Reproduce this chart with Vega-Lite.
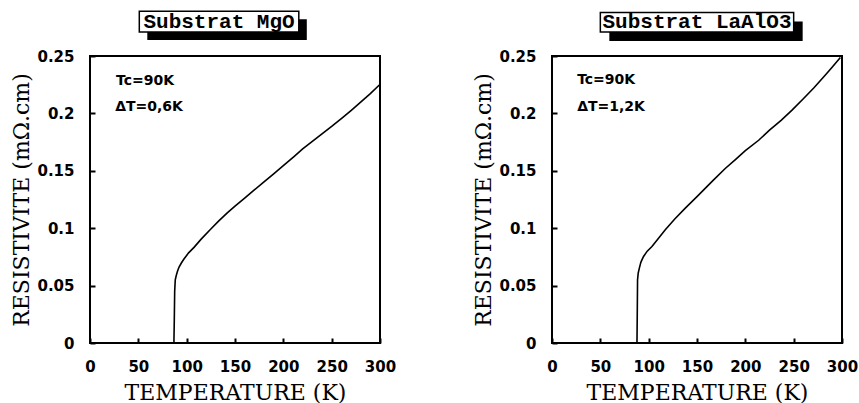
{
  "$schema": "https://vega.github.io/schema/vega-lite/v6.json",
  "background": "white",
  "padding": {"left": 9, "top": 9, "right": 5, "bottom": 5},
  "spacing": 74,
  "datasets": {
    "mgo": [
      {"temperature": 60, "resistivity": 0},
      {"temperature": 86.8, "resistivity": 0},
      {"temperature": 87.2, "resistivity": 0.02},
      {"temperature": 87.6, "resistivity": 0.045},
      {"temperature": 88.2, "resistivity": 0.055},
      {"temperature": 89.3, "resistivity": 0.059},
      {"temperature": 90.5, "resistivity": 0.0625},
      {"temperature": 92, "resistivity": 0.066},
      {"temperature": 94.5, "resistivity": 0.0697},
      {"temperature": 97.2, "resistivity": 0.0732},
      {"temperature": 102, "resistivity": 0.0785},
      {"temperature": 107.6, "resistivity": 0.0833},
      {"temperature": 115, "resistivity": 0.0905},
      {"temperature": 125, "resistivity": 0.0993},
      {"temperature": 133, "resistivity": 0.1062},
      {"temperature": 142, "resistivity": 0.1133},
      {"temperature": 150, "resistivity": 0.1192},
      {"temperature": 160, "resistivity": 0.1262},
      {"temperature": 170, "resistivity": 0.1333},
      {"temperature": 180, "resistivity": 0.1404},
      {"temperature": 190, "resistivity": 0.1474},
      {"temperature": 200, "resistivity": 0.1545},
      {"temperature": 211, "resistivity": 0.1624},
      {"temperature": 220, "resistivity": 0.169},
      {"temperature": 230, "resistivity": 0.1756},
      {"temperature": 240, "resistivity": 0.1822},
      {"temperature": 250, "resistivity": 0.1886},
      {"temperature": 260, "resistivity": 0.1955},
      {"temperature": 270, "resistivity": 0.2025},
      {"temperature": 280, "resistivity": 0.2098},
      {"temperature": 290, "resistivity": 0.2172},
      {"temperature": 299.3, "resistivity": 0.2247}
    ],
    "laalo3": [
      {"temperature": 60, "resistivity": 0},
      {"temperature": 87.9, "resistivity": 0},
      {"temperature": 88.2, "resistivity": 0.025},
      {"temperature": 88.5, "resistivity": 0.055},
      {"temperature": 89.2, "resistivity": 0.061},
      {"temperature": 90.3, "resistivity": 0.065},
      {"temperature": 92, "resistivity": 0.0705},
      {"temperature": 94.7, "resistivity": 0.0754},
      {"temperature": 98.5, "resistivity": 0.08},
      {"temperature": 103.4, "resistivity": 0.0841},
      {"temperature": 110, "resistivity": 0.091},
      {"temperature": 117.2, "resistivity": 0.0986},
      {"temperature": 127, "resistivity": 0.108},
      {"temperature": 137.9, "resistivity": 0.1175},
      {"temperature": 150, "resistivity": 0.1275},
      {"temperature": 160, "resistivity": 0.136},
      {"temperature": 167.2, "resistivity": 0.1421},
      {"temperature": 179.2, "resistivity": 0.152},
      {"temperature": 190, "resistivity": 0.16},
      {"temperature": 200, "resistivity": 0.1675},
      {"temperature": 213.8, "resistivity": 0.1766},
      {"temperature": 225, "resistivity": 0.1855},
      {"temperature": 237, "resistivity": 0.194},
      {"temperature": 248.3, "resistivity": 0.2028},
      {"temperature": 260, "resistivity": 0.2128},
      {"temperature": 271, "resistivity": 0.2224},
      {"temperature": 282.8, "resistivity": 0.2335},
      {"temperature": 290, "resistivity": 0.2405},
      {"temperature": 298.3, "resistivity": 0.2487}
    ],
    "single": [{}]
  },
  "config": {
    "view": {"stroke": "black", "strokeWidth": 2},
    "axis": {
      "grid": false,
      "domain": false,
      "ticks": true,
      "zindex": 1,
      "labelFont": "DejaVu Sans",
      "labelFontWeight": "bold",
      "labelFontSize": 15,
      "labelColor": "black",
      "labelFlush": false,
      "labelOverlap": false,
      "titleFont": "DejaVu Serif",
      "titleFontWeight": "normal",
      "titleFontSize": 22,
      "titleColor": "black",
      "tickColor": "black",
      "tickOpacity": 1,
      "tickSize": 5,
      "tickWidth": 2,
      "offset": -5
    },
    "axisX": {"labelPadding": 16, "titlePadding": 8},
    "axisY": {"labelPadding": 16, "titlePadding": 3}
  },
  "hconcat": [
    {
      "width": 290,
      "height": 287,
      "layer": [
        {
          "data": {"name": "single"},
          "mark": {"type": "rect", "fill": "black", "xOffset": 8, "x2Offset": 8, "yOffset": 8, "y2Offset": 8},
          "encoding": {
            "x": {"datum": 51, "type": "quantitative", "scale": {"domain": [0, 300], "nice": false}},
            "x2": {"datum": 216},
            "y": {"datum": 0.271, "type": "quantitative", "scale": {"domain": [0, 0.25], "nice": false}},
            "y2": {"datum": 0.289}
          }
        },
        {
          "data": {"name": "single"},
          "mark": {"type": "rect", "fill": "white", "stroke": "black", "strokeWidth": 1.5},
          "encoding": {
            "x": {"datum": 51, "type": "quantitative"},
            "x2": {"datum": 216},
            "y": {"datum": 0.271, "type": "quantitative"},
            "y2": {"datum": 0.289}
          }
        },
        {
          "data": {"name": "single"},
          "mark": {"type": "text", "text": "Substrat MgO", "font": "Liberation Mono", "fontSize": 21, "fontWeight": "bold", "color": "black", "align": "center", "baseline": "middle"},
          "encoding": {
            "x": {"datum": 133.5, "type": "quantitative"},
            "y": {"datum": 0.28, "type": "quantitative"}
          }
        },
        {
          "data": {"name": "mgo"},
          "mark": {"type": "line", "color": "black", "strokeWidth": 1.6},
          "encoding": {
            "x": {
              "field": "temperature",
              "type": "quantitative",
              "title": "TEMPERATURE (K)",
              "scale": {"domain": [0, 300], "nice": false},
              "axis": {"values": [0, 50, 100, 150, 200, 250, 300]}
            },
            "y": {
              "field": "resistivity",
              "type": "quantitative",
              "title": "RESISTIVITE (mΩ.cm)",
              "scale": {"domain": [0, 0.25], "nice": false},
              "axis": {"values": [0, 0.05, 0.1, 0.15, 0.2, 0.25], "format": "~g"}
            }
          }
        },
        {
          "data": {"name": "single"},
          "mark": {"type": "text", "text": "Tc=90K", "font": "DejaVu Sans", "fontWeight": "bold", "fontSize": 14, "color": "black", "align": "left", "baseline": "middle"},
          "encoding": {
            "x": {"datum": 27, "type": "quantitative"},
            "y": {"datum": 0.2285, "type": "quantitative"}
          }
        },
        {
          "data": {"name": "single"},
          "mark": {"type": "text", "text": "ΔT=0,6K", "font": "DejaVu Sans", "fontWeight": "bold", "fontSize": 14, "color": "black", "align": "left", "baseline": "middle"},
          "encoding": {
            "x": {"datum": 26, "type": "quantitative"},
            "y": {"datum": 0.2053, "type": "quantitative"}
          }
        }
      ]
    },
    {
      "width": 290,
      "height": 287,
      "layer": [
        {
          "data": {"name": "single"},
          "mark": {"type": "rect", "fill": "black", "xOffset": 9, "x2Offset": 9, "yOffset": 9, "y2Offset": 9},
          "encoding": {
            "x": {"datum": 50, "type": "quantitative", "scale": {"domain": [0, 300], "nice": false}},
            "x2": {"datum": 250},
            "y": {"datum": 0.271, "type": "quantitative", "scale": {"domain": [0, 0.25], "nice": false}},
            "y2": {"datum": 0.288}
          }
        },
        {
          "data": {"name": "single"},
          "mark": {"type": "rect", "fill": "white", "stroke": "black", "strokeWidth": 1.5},
          "encoding": {
            "x": {"datum": 50, "type": "quantitative"},
            "x2": {"datum": 250},
            "y": {"datum": 0.271, "type": "quantitative"},
            "y2": {"datum": 0.288}
          }
        },
        {
          "data": {"name": "single"},
          "mark": {"type": "text", "text": "Substrat LaAlO3", "font": "Liberation Mono", "fontSize": 21, "fontWeight": "bold", "color": "black", "align": "center", "baseline": "middle"},
          "encoding": {
            "x": {"datum": 150, "type": "quantitative"},
            "y": {"datum": 0.2795, "type": "quantitative"}
          }
        },
        {
          "data": {"name": "laalo3"},
          "mark": {"type": "line", "color": "black", "strokeWidth": 1.6},
          "encoding": {
            "x": {
              "field": "temperature",
              "type": "quantitative",
              "title": "TEMPERATURE (K)",
              "scale": {"domain": [0, 300], "nice": false},
              "axis": {"values": [0, 50, 100, 150, 200, 250, 300]}
            },
            "y": {
              "field": "resistivity",
              "type": "quantitative",
              "title": "RESISTIVITE (mΩ.cm)",
              "scale": {"domain": [0, 0.25], "nice": false},
              "axis": {"values": [0, 0.05, 0.1, 0.15, 0.2, 0.25], "format": "~g"}
            }
          }
        },
        {
          "data": {"name": "single"},
          "mark": {"type": "text", "text": "Tc=90K", "font": "DejaVu Sans", "fontWeight": "bold", "fontSize": 14, "color": "black", "align": "left", "baseline": "middle"},
          "encoding": {
            "x": {"datum": 26, "type": "quantitative"},
            "y": {"datum": 0.229, "type": "quantitative"}
          }
        },
        {
          "data": {"name": "single"},
          "mark": {"type": "text", "text": "ΔT=1,2K", "font": "DejaVu Sans", "fontWeight": "bold", "fontSize": 14, "color": "black", "align": "left", "baseline": "middle"},
          "encoding": {
            "x": {"datum": 26, "type": "quantitative"},
            "y": {"datum": 0.206, "type": "quantitative"}
          }
        }
      ]
    }
  ]
}
